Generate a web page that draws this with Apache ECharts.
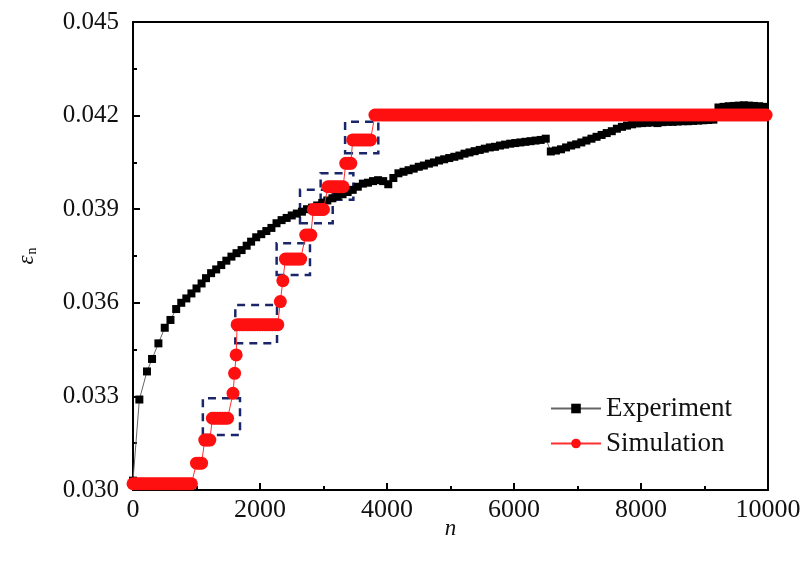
<!DOCTYPE html>
<html>
<head>
<meta charset="utf-8">
<script src="https://cdn.jsdelivr.net/npm/echarts@6/dist/echarts.min.js"></script>
<style>
  html, body { margin: 0; padding: 0; background: #fff; }
  #main { width: 806px; height: 565px; }
</style>
</head>
<body>
<div id="main"></div>
<script>
// axis ticks
var xTicks = [0, 2000, 4000, 6000, 8000, 10000];
var yTicks = [0.030, 0.033, 0.036, 0.039, 0.042, 0.045];

// experiment: [n, eps_n]
var experimentPts = [
  [0, 0.0303], [100, 0.0329], [220, 0.0338], [300, 0.0342], [400, 0.0347],
  [500, 0.0352], [590, 0.03545], [680, 0.0358], [760, 0.0360], [840, 0.03614],
  [920, 0.0363], [1000, 0.03646], [1080, 0.03662], [1150, 0.03679], [1230, 0.03695],
  [1310, 0.03707], [1390, 0.03721], [1470, 0.03735], [1550, 0.03748], [1630, 0.03759],
  [1710, 0.03769], [1790, 0.03783], [1860, 0.03796], [1940, 0.0381], [2020, 0.0382],
  [2100, 0.0383], [2180, 0.0384], [2260, 0.03855], [2340, 0.03865], [2420, 0.03872],
  [2500, 0.0388], [2580, 0.03886], [2660, 0.03892], [2740, 0.039], [2820, 0.03905],
  [2900, 0.03912], [2980, 0.0392], [3060, 0.03928], [3140, 0.03935], [3220, 0.03942],
  [3300, 0.03948], [3380, 0.03955], [3460, 0.03962], [3540, 0.03972], [3620, 0.03982],
  [3700, 0.03985], [3780, 0.0399], [3860, 0.03993], [3940, 0.0399], [4020, 0.0398],
  [4100, 0.0400], [4180, 0.04015], [4260, 0.0402], [4340, 0.04025], [4420, 0.0403],
  [4500, 0.04036], [4580, 0.0404], [4660, 0.04046], [4740, 0.0405], [4820, 0.04056],
  [4900, 0.0406], [4980, 0.04064], [5060, 0.04068], [5140, 0.04072], [5220, 0.04078],
  [5300, 0.04082], [5380, 0.04086], [5460, 0.0409], [5540, 0.04094], [5620, 0.04098],
  [5700, 0.041], [5780, 0.04104], [5860, 0.04107], [5940, 0.0411], [6020, 0.04112],
  [6100, 0.04114], [6180, 0.04116], [6260, 0.04118], [6340, 0.0412], [6420, 0.04122],
  [6500, 0.04126], [6580, 0.04085], [6660, 0.04088], [6740, 0.04092], [6820, 0.04098],
  [6900, 0.04104], [6980, 0.04108], [7060, 0.04114], [7140, 0.0412], [7220, 0.04126],
  [7300, 0.04132], [7380, 0.04138], [7460, 0.04144], [7540, 0.0415], [7620, 0.04158],
  [7700, 0.04164], [7780, 0.04168], [7860, 0.04172], [7940, 0.04175], [8020, 0.04176],
  [8100, 0.04177], [8180, 0.04178], [8260, 0.04176], [8340, 0.04179], [8420, 0.0418],
  [8500, 0.0418], [8580, 0.04181], [8660, 0.04182], [8740, 0.04182], [8820, 0.04183],
  [8900, 0.04184], [8980, 0.04185], [9060, 0.04186], [9140, 0.04187], [9220, 0.04226],
  [9300, 0.04228], [9380, 0.0423], [9460, 0.04231], [9540, 0.04232], [9620, 0.04233],
  [9700, 0.04232], [9780, 0.04231], [9860, 0.0423], [9940, 0.04228]
];

// simulation: flat steps [nStart, nEnd, eps_n] and the single points between them
var simPlateaus = [
  [0, 950, 0.0302],
  [1000, 1100, 0.03086],
  [1130, 1210, 0.0316],
  [1250, 1500, 0.0323],
  [1640, 2290, 0.0353],
  [2400, 2650, 0.0374],
  [2720, 2800, 0.03817],
  [2840, 3030, 0.03899],
  [3070, 3330, 0.03972],
  [3350, 3440, 0.04047],
  [3460, 3770, 0.04122],
  [3810, 10000, 0.04202]
];
var simSinglePts = [
  [1575, 0.0331], [1600, 0.03374], [1625, 0.03433],
  [2320, 0.03604], [2360, 0.03671]
];

// dashed boxes: [n1, eps1, n2, eps2]
var boxes = [
  [1100, 0.03176, 1685, 0.03294],
  [1611, 0.0347, 2268, 0.03593],
  [2262, 0.03689, 2787, 0.03791],
  [2630, 0.03855, 3145, 0.03962],
  [2955, 0.0393, 3470, 0.04015],
  [3340, 0.04079, 3863, 0.0418]
];

var simPts = [];
simPlateaus.forEach(function(p) {
  // a flat step is a row of circles at the same value
  for (var n = p[0]; n <= p[1]; n += 40) {
    simPts.push([n, p[2]]);
  }
});
simSinglePts.forEach(function(p) {
  simPts.push(p);
});
simPts.sort(function(a, b) {
  return a[0] - b[0];
});

var serif = "'Liberation Serif', 'Times New Roman', serif";
var myChart = echarts.init(document.getElementById("main"));

var option = {
  animation: false,
  backgroundColor: "#fff",
  grid: { left: 133, right: 38, top: 22, bottom: 75 },
  legend: {
    orient: "vertical",
    left: 545,
    top: 390,
    itemWidth: 50,
    itemHeight: 12,
    itemGap: 8,
    textStyle: { fontFamily: serif, fontSize: 27, color: "#111" },
    data: ["Experiment", "Simulation"]
  },
  xAxis: [
    {
      type: "value",
      min: 0,
      max: 10000,
      interval: 2000,
      name: "n",
      nameLocation: "middle",
      nameGap: 27,
      nameMoveOverlap: false,
      nameTextStyle: { fontFamily: serif, fontSize: 23, fontStyle: "italic", color: "#111" },
      axisLine: { lineStyle: { color: "#000", width: 2 } },
      axisTick: { inside: true, length: 7, lineStyle: { color: "#000", width: 2 } },
      minorTick: { show: true, splitNumber: 2, length: 4, lineStyle: { color: "#000", width: 2 } },
      splitLine: { show: false },
      axisLabel: {
        fontFamily: serif,
        fontSize: 26,
        color: "#111",
        margin: 7,
        formatter: function(v) {
          return xTicks.indexOf(v) >= 0 ? String(v) : "";
        }
      }
    },
    {
      type: "value",
      position: "top",
      min: 0,
      max: 10000,
      axisLine: { show: true, onZero: false, lineStyle: { color: "#000", width: 2 } },
      axisTick: { show: false },
      axisLabel: { show: false },
      splitLine: { show: false }
    }
  ],
  yAxis: [
    {
      type: "value",
      min: 0.03,
      max: 0.045,
      interval: 0.003,
      name: "{e|ε}{s|n}",
      nameLocation: "middle",
      nameGap: 94,
      nameMoveOverlap: false,
      nameTextStyle: {
        rich: {
          e: { fontFamily: serif, fontSize: 23, fontStyle: "italic", color: "#111" },
          s: { fontFamily: serif, fontSize: 14, color: "#111", padding: [10, 0, 0, 1] }
        }
      },
      axisLine: { show: true, lineStyle: { color: "#000", width: 2 } },
      axisTick: { inside: true, length: 7, lineStyle: { color: "#000", width: 2 } },
      minorTick: { show: true, splitNumber: 2, length: 4, lineStyle: { color: "#000", width: 2 } },
      splitLine: { show: false },
      axisLabel: {
        fontFamily: serif,
        fontSize: 25,
        color: "#111",
        margin: 14,
        formatter: function(v) {
          return v.toFixed(3);
        }
      }
    },
    {
      type: "value",
      position: "right",
      min: 0.03,
      max: 0.045,
      axisLine: { show: true, onZero: false, lineStyle: { color: "#000", width: 2 } },
      axisTick: { show: false },
      axisLabel: { show: false },
      splitLine: { show: false }
    }
  ],
  series: [
    {
      name: "Experiment",
      type: "line",
      data: experimentPts,
      symbol: "rect",
      symbolSize: 8,
      itemStyle: { color: "#000" },
      lineStyle: { color: "#666", width: 1 },
      z: 2
    },
    {
      name: "Simulation",
      type: "line",
      data: simPts,
      symbol: "circle",
      symbolSize: 13,
      itemStyle: { color: "#ff1010" },
      lineStyle: { color: "#ff3030", width: 1 },
      z: 3,
      markArea: {
        silent: true,
        itemStyle: {
          color: "rgba(0,0,0,0)",
          borderColor: "#1a2669",
          borderWidth: 2.5,
          borderType: [8, 6]
        },
        data: boxes.map(function(b) {
          return [{ xAxis: b[0], yAxis: b[1] }, { xAxis: b[2], yAxis: b[3] }];
        })
      }
    }
  ]
};

myChart.setOption(option);
</script>
</body>
</html>
